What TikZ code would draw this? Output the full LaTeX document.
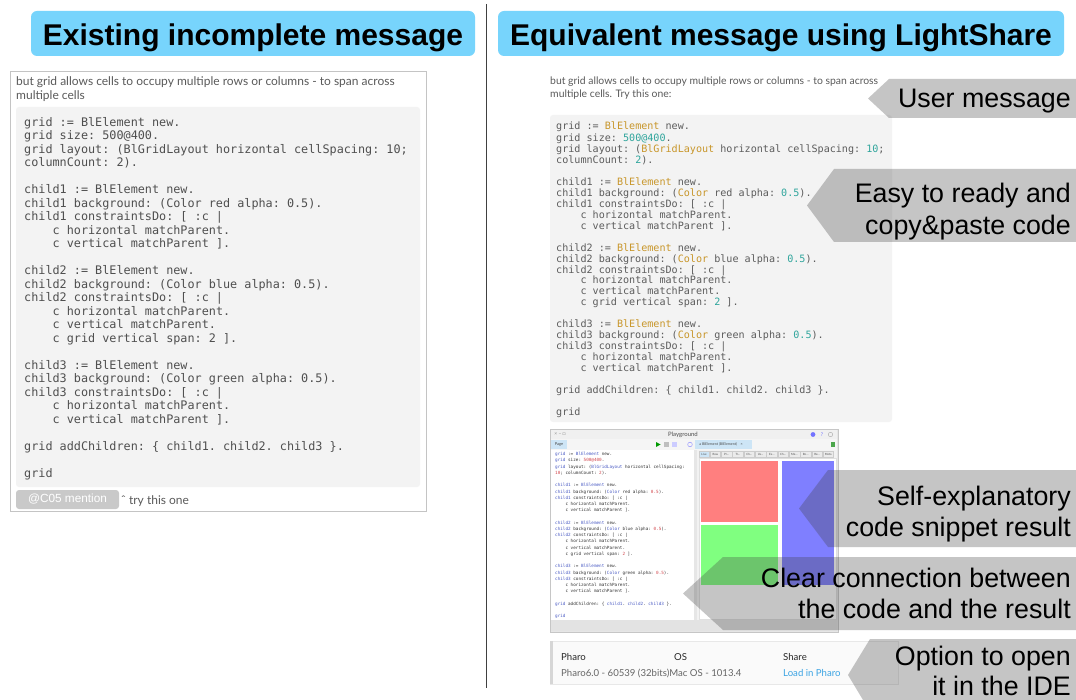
\documentclass[tikz,border=0pt]{standalone}
\usepackage{fontspec}
\setmainfont{Liberation Sans}
\setmonofont{DejaVu Sans Mono}
\newfontfamily\lato{Lato}
\definecolor{hdrblue}{HTML}{77D4FC}
\definecolor{framegray}{HTML}{C4C4C4}
\definecolor{codebg}{HTML}{F3F3F3}
\definecolor{codetxt}{HTML}{4F4F4F}
\definecolor{rcodetxt}{HTML}{5C5C5C}
\definecolor{msgtxt}{HTML}{5A5A5A}
\definecolor{rgold}{HTML}{C8962A}
\definecolor{rteal}{HTML}{2FA59C}
\definecolor{btngray}{HTML}{C9C9C9}
\definecolor{linkblue}{HTML}{3AA3E3}
\definecolor{tabblue}{HTML}{CDE5F6}
\definecolor{tabgray}{HTML}{EBEBEB}
\definecolor{scvar}{HTML}{4A5BC4}
\definecolor{scnum}{HTML}{D2454B}
\definecolor{redbox}{HTML}{FF7F7F}
\definecolor{greenbox}{HTML}{80FF80}
\definecolor{bluebox}{HTML}{7F7FFF}
\definecolor{winbg}{HTML}{E6E6E6}
\definecolor{winborder}{HTML}{C6C6C6}
\newcommand\codeind{\phantom{cccc}}
\newcommand\rcl[1]{\textcolor{rgold}{#1}}
\newcommand\rnm[1]{\textcolor{rteal}{#1}}
\newcommand\sv[1]{\textcolor{scvar}{#1}}
\newcommand\sn[1]{\textcolor{scnum}{#1}}
\begin{document}
\begin{tikzpicture}[x=1pt,y=-1pt,
  hdrtxt/.style={font=\fontsize{30}{36}\selectfont\bfseries, inner sep=0, anchor=base},
  callout/.style={fill=black!75, fill opacity=0.3},
  ctext/.style={font=\fontsize{26.8}{32}\selectfont, inner sep=0, anchor=base east},
  msg/.style={font=\lato\fontsize{12}{14}\selectfont, text=msgtxt, align=left, inner sep=0},
  rmsg/.style={font=\lato\fontsize{10.4}{13.5}\selectfont, text=msgtxt, align=left, inner sep=0, anchor=north west},
  lcode/.style={font=\ttfamily\fontsize{11.8}{13.5}\selectfont, text=codetxt, align=left, inner sep=0, anchor=north west},
  rcode/.style={font=\ttfamily\fontsize{10.1}{10.96}\selectfont, text=rcodetxt, align=left, inner sep=0, anchor=north west},
  scode/.style={font=\ttfamily\fontsize{4.3}{6.23}\selectfont, text=black!80, align=left, inner sep=0, anchor=north west},
  btn/.style={font=\fontsize{11.8}{14}\selectfont, text=white, inner sep=0},
  stab/.style={draw=black!20, fill=tabgray, font=\lato\fontsize{2.9}{3}\selectfont, text=black!70, inner sep=0, minimum width=10.6pt, minimum height=6pt},
  tbl/.style={font=\lato\fontsize{9.6}{12}\selectfont, inner sep=0, anchor=base west},
  tiny/.style={font=\lato\fontsize{#1}{#1}\selectfont, inner sep=0}
]
\useasboundingbox (0,0) rectangle (1076,700);
\fill[white] (0,0) rectangle (1076,700);

% ---------- headers ----------
\fill[hdrblue, rounded corners=6pt] (31,11) rectangle (475,56);
\node[hdrtxt] (h1) at (253,46) {Existing incomplete message};
\fill[hdrblue, rounded corners=6pt] (498,11) rectangle (1064,56);
\node[hdrtxt] (h2) at (781,46) {Equivalent message using LightShare};

% divider
\draw[black!75, line width=1pt] (486,4) -- (486,688);

% ---------- left message ----------
\draw[framegray, line width=0.8pt] (10.5,71.5) rectangle (426.5,511.5);
\node[msg, anchor=north west] (lmsg) at (16,76) {\strut but grid allows cells to occupy multiple rows or columns - to span across\\multiple cells};
\fill[codebg, rounded corners=3pt] (16,107) rectangle (420,487);
\node[lcode] (lcode) at (24,116.5) {\strut grid := BlElement new.\\
grid size: 500@400.\\
grid layout: (BlGridLayout horizontal cellSpacing: 10;\\
columnCount: 2).\\
\mbox{}\\
child1 := BlElement new.\\
child1 background: (Color red alpha: 0.5).\\
child1 constraintsDo: [ :c |\\
\codeind c horizontal matchParent.\\
\codeind c vertical matchParent ].\\
\mbox{}\\
child2 := BlElement new.\\
child2 background: (Color blue alpha: 0.5).\\
child2 constraintsDo: [ :c |\\
\codeind c horizontal matchParent.\\
\codeind c vertical matchParent.\\
\codeind c grid vertical span: 2 ].\\
\mbox{}\\
child3 := BlElement new.\\
child3 background: (Color green alpha: 0.5).\\
child3 constraintsDo: [ :c |\\
\codeind c horizontal matchParent.\\
\codeind c vertical matchParent ].\\
\mbox{}\\
grid addChildren: \{ child1. child2. child3 \}.\\
\mbox{}\\
grid};
\fill[btngray, rounded corners=3pt] (16,490) rectangle (119,509);
\node[btn] (btn) at (67.5,499.5) {@C05 mention};
\node[msg, anchor=base west] (try) at (121,504.5) {ˆ try this one};

% ---------- right message ----------
\node[rmsg] (rmsg) at (550,74.5) {\strut but grid allows cells to occupy multiple rows or columns - to span across\\multiple cells. Try this one:};
\fill[codebg, rounded corners=3pt] (550,115) rectangle (892,422);
\node[rcode] (rcode) at (556,121.6) {\strut grid := \rcl{BlElement} new.\\
grid size: \rnm{500@400}.\\
grid layout: (\rcl{BlGridLayout} horizontal cellSpacing: \rnm{10};\\
columnCount: \rnm{2}).\\
\mbox{}\\
child1 := \rcl{BlElement} new.\\
child1 background: (\rcl{Color} red alpha: \rnm{0.5}).\\
child1 constraintsDo: [ :c |\\
\codeind c horizontal matchParent.\\
\codeind c vertical matchParent ].\\
\mbox{}\\
child2 := \rcl{BlElement} new.\\
child2 background: (\rcl{Color} blue alpha: \rnm{0.5}).\\
child2 constraintsDo: [ :c |\\
\codeind c horizontal matchParent.\\
\codeind c vertical matchParent.\\
\codeind c grid vertical span: \rnm{2} ].\\
\mbox{}\\
child3 := \rcl{BlElement} new.\\
child3 background: (\rcl{Color} green alpha: \rnm{0.5}).\\
child3 constraintsDo: [ :c |\\
\codeind c horizontal matchParent.\\
\codeind c vertical matchParent ].\\
\mbox{}\\
grid addChildren: \{ child1. child2. child3 \}.\\
\mbox{}\\
grid};

% ---------- screenshot ----------
\fill[winbg, draw=winborder, line width=0.6pt] (550,429) rectangle (838,632);
\fill[black!6] (551,430) rectangle (837,439);
\node[tiny=6, text=black!70] (ptitle) at (683,434.5) {Playground};
\node[tiny=5, text=black!45] (wctl) at (560,434.5) {× − □};
\fill[blue!55] (813,434.5) circle (2.4);
\node[tiny=5, text=blue!60] (whelp) at (822,434.5) {?};
\draw[black!30, line width=0.5pt] (830.5,434.5) circle (2.2);
\fill[black!4] (551,439) rectangle (837,450);
\fill[tabblue] (551,440) rectangle (567,449);
\node[tiny=4, text=black!70] (ptab) at (559,444.5) {Page};
\fill[green!60!black] (656,442) -- (660.5,444.5) -- (656,447) -- cycle;
\fill[black!25] (664,442) rectangle (669,447);
\fill[blue!20] (672,442) rectangle (677,447);
\draw[blue!40, line width=0.5pt] (690,444.5) circle (2.3);
\fill[tabblue] (695,440) rectangle (752,449);
\node[tiny=3.6, text=black!70] (itab) at (721,444.5) {a BlElement (BlElement)\quad ×};
\fill[green!50!black!70] (831,442) rectangle (835,447);
\fill[white] (551,450) rectangle (694,620);
\node[scode] (scode) at (555,451.2) {\strut \sv{grid} := \sv{BlElement} new.\\
\sv{grid} size: \sn{500@400}.\\
\sv{grid} layout: (\sv{BlGridLayout} horizontal cellSpacing:\\
\sn{10}; columnCount: \sn{2}).\\
\mbox{}\\
\sv{child1} := \sv{BlElement} new.\\
\sv{child1} background: (\sv{Color} red alpha: \sn{0.5}).\\
\sv{child1} constraintsDo: [ :c |\\
\codeind c horizontal matchParent.\\
\codeind c vertical matchParent ].\\
\mbox{}\\
\sv{child2} := \sv{BlElement} new.\\
\sv{child2} background: (\sv{Color} blue alpha: \sn{0.5}).\\
\sv{child2} constraintsDo: [ :c |\\
\codeind c horizontal matchParent.\\
\codeind c vertical matchParent.\\
\codeind c grid vertical span: \sn{2} ].\\
\mbox{}\\
\sv{child3} := \sv{BlElement} new.\\
\sv{child3} background: (\sv{Color} green alpha: \sn{0.5}).\\
\sv{child3} constraintsDo: [ :c |\\
\codeind c horizontal matchParent.\\
\codeind c vertical matchParent ].\\
\mbox{}\\
\sv{grid} addChildren: \{ \sv{child1}. \sv{child2}. \sv{child3} \}.\\
\mbox{}\\
\sv{grid}};
\fill[black!5] (697,450) rectangle (837,620);
\node[stab, fill=tabblue] (tab1) at (704,454) {Live};
\foreach \lab [count=\i from 2] in {Raw,Pr\ldots,Tr\ldots,Ch\ldots,Us\ldots,Ex\ldots,Ch\ldots,Me\ldots,Re\ldots,Re\ldots,Meta}{
  \node[stab] (tab\i) at ({704+(\i-1)*11.3},454) {\lab};
}
\fill[white, draw=black!12] (699,458) rectangle (836,619);
\fill[redbox] (701,461) rectangle (778,522);
\fill[greenbox] (701,525) rectangle (778,585);
\fill[bluebox] (782,461) rectangle (834,585);
\fill[black!11] (551,620) rectangle (837,631);

% ---------- info table ----------
\fill[black!2, draw=black!9, line width=0.6pt] (550,641) rectangle (898,684);
\fill[black!16] (550,641) rectangle (553,684);
\node[tbl, text=black!85] (tpharo) at (561,660.5) {Pharo};
\node[tbl, text=black!85] (tos) at (674,660.5) {OS};
\node[tbl, text=black!85] (tshare) at (783,660.5) {Share};
\node[tbl, text=black!60] (tver) at (561,676.5) {Pharo6.0 - 60539 (32bits)Mac OS - 1013.4};
\node[tbl, text=linkblue] (tload) at (783,676.5) {Load in Pharo};

% ---------- callouts ----------
\fill[callout] (1076,79) -- (889,79) -- (868,98.5) -- (889,118) -- (1076,118) -- cycle;
\node[ctext] (c1) at (1071,108) {User message};
\fill[callout] (1076,169) -- (834,169) -- (807,205.5) -- (834,242) -- (1076,242) -- cycle;
\node[ctext] (c2a) at (1071,203) {Easy to ready and};
\node[ctext] (c2b) at (1071,234.5) {copy\&paste code};
\fill[callout] (1076,470) -- (828,470) -- (799,508.5) -- (828,547) -- (1076,547) -- cycle;
\node[ctext] (c3a) at (1071,505) {Self-explanatory};
\node[ctext] (c3b) at (1071,536) {code snippet result};
\fill[callout] (1076,557) -- (723,557) -- (683,593.5) -- (723,630) -- (1076,630) -- cycle;
\node[ctext] (c4a) at (1071,587) {Clear connection between};
\node[ctext] (c4b) at (1071,618.5) {the code and the result};
\fill[callout] (1076,639) -- (870,639) -- (848,675) -- (863,700) -- (1076,700) -- cycle;
\node[ctext] (c5a) at (1071,665) {Option to open};
\node[ctext] (c5b) at (1071,695.5) {it in the IDE};
\end{tikzpicture}
\end{document}
